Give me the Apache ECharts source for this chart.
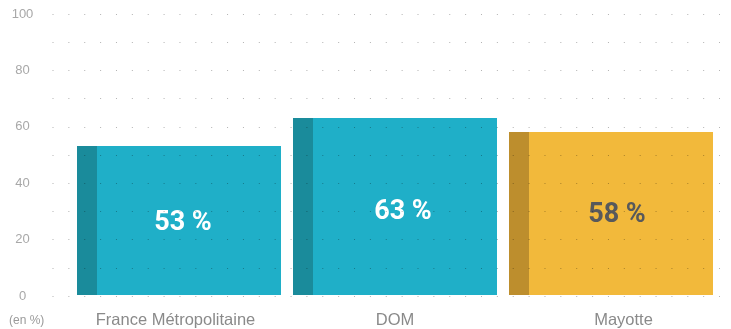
<!DOCTYPE html>
<html>
<head>
<meta charset="utf-8">
<script src="https://cdn.jsdelivr.net/npm/echarts@6/dist/echarts.min.js"></script>
<style>
  html, body { margin: 0; padding: 0; background: #fff; }
  #chart { width: 731px; height: 329px; }
</style>
</head>
<body>
<div id="chart"></div>
<script>
// Share of population (en %)
const categories = ['France Métropolitaine', 'DOM', 'Mayotte'];
const values = [53, 63, 58];
const valueLabels = ['53 %', '63 %', '58 %'];
const yTicks = [0, 20, 40, 60, 80, 100];

const teal = '#1fafc8', tealDark = '#1a8b9b';
const gold = '#f2b93b', goldDark = '#bd8e2d';

// light face with a darker strip along the left edge
function faceColor(light, dark) {
  const edge = 20 / 204;
  return new echarts.graphic.LinearGradient(0, 0, 1, 0, [
    { offset: 0, color: dark },
    { offset: edge, color: dark },
    { offset: edge, color: light },
    { offset: 1, color: light }
  ]);
}

const barColors = [[teal, tealDark], [teal, tealDark], [gold, goldDark]];
const labelColors = ['#ffffff', '#ffffff', '#58595b'];
const labelOffsets = [[4, 3], [8, 6], [6, 2]];
const labelPads = [[0, 7, 0, 0], [0, 0, 0, 0], [0, 0, 0, 25]];

const chart = echarts.init(document.getElementById('chart'), null, { renderer: 'canvas' });

chart.setOption({
  animation: false,
  grid: [
    { left: 52.5, right: 11, top: 14, bottom: 33 },
    { left: 71, right: 12, top: 14, bottom: 33 }
  ],
  xAxis: [
    { gridIndex: 0, type: 'value', show: false, min: 0, max: 1 },
    {
      gridIndex: 1, type: 'category',
      data: categories.map((c, i) => ({ value: c, textStyle: { padding: labelPads[i] } })),
      axisLine: { show: false }, axisTick: { show: false },
      axisLabel: { color: '#8a8a8a', fontSize: 16.5, fontFamily: 'Liberation Sans', margin: 17 }
    }
  ],
  yAxis: [
    {
      gridIndex: 0, type: 'value', min: 0, max: 100, interval: 10, zlevel: 1, z: 10,
      axisLine: { show: false }, axisTick: { show: false },
      axisLabel: {
        color: '#a8a8a8', fontSize: 13, fontFamily: 'Liberation Sans', align: 'center', margin: 30,
        formatter: v => (yTicks.indexOf(v) >= 0 ? String(v) : '')
      },
      splitLine: {
        show: true,
        lineStyle: { color: 'rgba(0,0,0,0.3)', width: 1, type: [1, 14.87] }
      }
    },
    { gridIndex: 1, type: 'value', min: 0, max: 100, show: false }
  ],
  series: [{
    type: 'bar',
    xAxisIndex: 1, yAxisIndex: 1,
    barWidth: 204,
    z: 2,
    data: values.map((v, i) => ({
      value: v,
      itemStyle: { color: faceColor(barColors[i][0], barColors[i][1]) },
      label: { color: labelColors[i], offset: labelOffsets[i] }
    })),
    label: {
      show: true, position: 'inside',
      fontSize: 27, fontWeight: 'bold', fontFamily: 'Roboto',
      formatter: p => valueLabels[p.dataIndex]
    }
  }],
  graphic: [{
    type: 'text', left: 9, top: 315,
    style: { text: '(en %)', fill: '#9a9a9a', fontSize: 12, fontFamily: 'Liberation Sans' }
  }]
});
</script>
</body>
</html>
